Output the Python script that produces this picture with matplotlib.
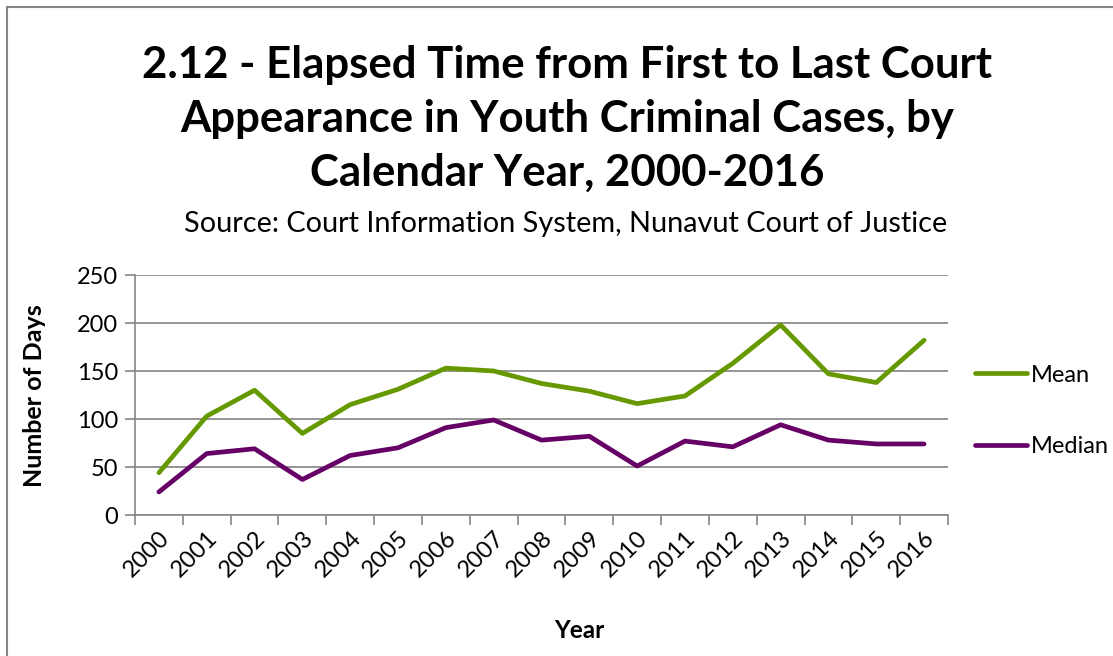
import numpy as np
import matplotlib.pyplot as plt
from matplotlib.patches import Rectangle

years = [str(y) for y in range(2000, 2017)]
mean_days = [44, 103, 130, 85, 115, 131, 153, 150, 137, 129, 116, 124, 158, 198, 147, 138, 182]
median_days = [24, 64, 69, 37, 62, 70, 91, 99, 78, 82, 51, 77, 71, 94, 78, 74, 74]

plt.rcParams['font.family'] = ['Lato', 'DejaVu Sans']

W, H = 1113, 656
fig = plt.figure(figsize=(W / 100, H / 100), dpi=100)

# chart frame (only left and top edges fall inside the image)
fig.patches.append(Rectangle((7 / W, -0.1), 1.2, 1 - 7 / H + 0.1, transform=fig.transFigure,
                             fill=False, edgecolor='#868686', linewidth=1.5))

ax = fig.add_axes([135 / W, 141 / H, 813 / W, 240 / H])
x = np.arange(len(years))
ax.plot(x, mean_days, color='#669900', linewidth=3.4, label='Mean', solid_capstyle='round')
ax.plot(x, median_days, color='#660066', linewidth=3.4, label='Median', solid_capstyle='round')

ax.set_xlim(-0.5, len(years) - 0.5)
ax.set_ylim(0, 250)
ax.set_yticks(range(0, 251, 50))
ax.tick_params(axis='y', labelsize=17, length=7, width=1.2, color='#868686', pad=5)
ax.yaxis.grid(True, color='#8c8c8c', linewidth=1.3)
ax.set_axisbelow(True)

# year labels at the points, tick marks between categories
ax.set_xticks(np.arange(-0.5, len(years), 1.0))
ax.set_xticklabels([])
ax.tick_params(axis='x', which='major', length=7, width=1.2, color='#868686')
ax.set_xticks(x, minor=True)
ax.set_xticklabels(years, minor=True, rotation=45, ha='right', rotation_mode='anchor', fontsize=17)
ax.tick_params(axis='x', which='minor', length=0, pad=9)

for side in ['top', 'right']:
    ax.spines[side].set_visible(False)
for side in ['left', 'bottom']:
    ax.spines[side].set_color('#868686')
    ax.spines[side].set_linewidth(1.2)

fig.text(35 / W, 1 - 396 / H, 'Number of Days', fontsize=18, fontweight='bold',
         rotation=90, ha='center', va='center')
fig.text(579 / W, 1 - 630 / H, 'Year', fontsize=17.5, fontweight='bold', ha='center', va='center')

fig.text(567 / W, 1 - 119 / H,
         '2.12 - Elapsed Time from First to Last Court\n'
         'Appearance in Youth Criminal Cases, by\n'
         'Calendar Year, 2000-2016',
         fontsize=31.5, fontweight='bold', ha='center', va='center', linespacing=1.42)
fig.text(566 / W, 1 - 224 / H, 'Source: Court Information System, Nunavut Court of Justice',
         fontsize=20.8, ha='center', va='center')

ax.legend(loc='center left', bbox_to_anchor=(975 / W, 1 - 411 / H), bbox_transform=fig.transFigure,
          frameon=False, fontsize=17, handlelength=2.2, handletextpad=0.15, labelspacing=2.15,
          borderpad=0, borderaxespad=0)

fig.savefig('out.png', dpi=100)
